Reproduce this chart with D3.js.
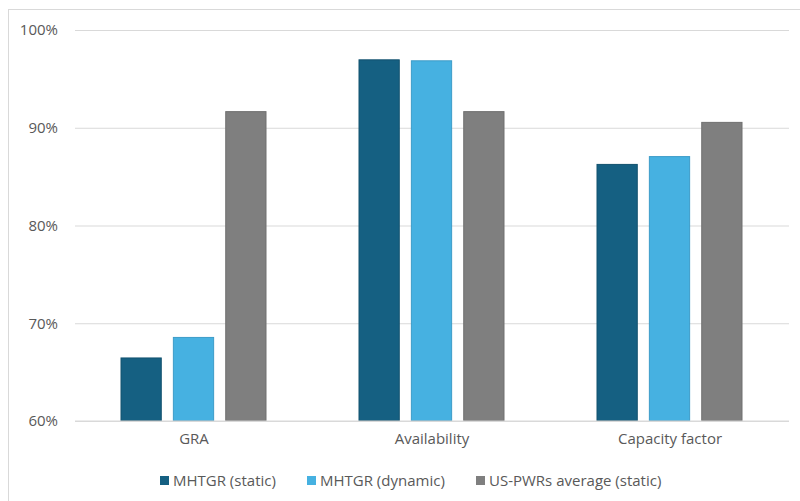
<!DOCTYPE html>
<html>
<head>
<meta charset="utf-8">
<script src="https://cdn.jsdelivr.net/npm/d3@7/dist/d3.min.js"></script>
<style>
  html, body { margin: 0; padding: 0; background: #fff; }
  svg { display: block; }
  text { font-family: "Open Sans", sans-serif; fill: #595959; }
</style>
</head>
<body>
<svg id="chart" width="800" height="501"></svg>
<script>
// Performance indicators (%)
const categories = ["GRA", "Availability", "Capacity factor"];
const seriesNames = ["MHTGR (static)", "MHTGR (dynamic)", "US-PWRs average (static)"];
const mhtgrStatic = [66.5, 97.0, 86.3];
const mhtgrDynamic = [68.6, 96.9, 87.1];
const pwrAverage = [91.7, 91.7, 90.6];
const yTicks = [60, 70, 80, 90, 100];

const colors = ["#156082", "#46B1E1", "#7F7F7F"];
const strokes = ["#12526F", "#3C9CC8", "#707070"];
const values = [mhtgrStatic, mhtgrDynamic, pwrAverage];

const svg = d3.select("#chart");
const W = 800, H = 501;
const plot = { left: 75, right: 789, top: 30, bottom: 421 };

// chart-area frame
svg.append("rect")
  .attr("x", 8.5).attr("y", 9.5)
  .attr("width", W).attr("height", H)
  .attr("fill", "none").attr("stroke", "#D9D9D9").attr("stroke-width", 1);

const x0 = d3.scaleBand().domain(categories).range([plot.left, plot.right]).padding(0);
const x1 = d3.scaleBand().domain(seriesNames)
  .range([45.5, x0.bandwidth() - 46.5])
  .paddingInner(0.212).paddingOuter(0);
const y = d3.scaleLinear().domain([60, 100]).range([plot.bottom, plot.top]);

// gridlines and y labels
const yAxis = d3.axisLeft(y).tickValues(yTicks).tickSize(-(plot.right - plot.left))
  .tickFormat(d => d + "%").tickPadding(17);
const gy = svg.append("g").attr("transform", `translate(${plot.left},0)`).call(yAxis);
gy.select(".domain").remove();
gy.selectAll(".tick line").attr("stroke", "#D9D9D9").attr("stroke-width", 1);
gy.selectAll(".tick text").attr("font-size", 15).style("fill", "#595959")
  .attr("font-family", "Open Sans, sans-serif");

// bars
const groups = svg.append("g").selectAll("g")
  .data(categories)
  .join("g")
  .attr("transform", d => `translate(${x0(d)},0)`);

groups.selectAll("rect")
  .data((c, ci) => seriesNames.map((s, si) => ({ s, si, v: values[si][ci] })))
  .join("rect")
  .attr("x", d => x1(d.s) + 0.5)
  .attr("y", d => y(d.v) + 0.5)
  .attr("width", x1.bandwidth() - 1)
  .attr("height", d => y(60) - y(d.v) - 1)
  .attr("fill", d => colors[d.si])
  .attr("stroke", d => strokes[d.si])
  .attr("stroke-width", 1);

// category axis labels
const xAxis = d3.axisBottom(x0).tickSize(0).tickPadding(12);
const gx = svg.append("g").attr("transform", `translate(0,${plot.bottom})`).call(xAxis);
gx.select(".domain").remove();
gx.selectAll(".tick text").attr("font-size", 15).style("fill", "#595959")
  .attr("font-family", "Open Sans, sans-serif");

// baseline
svg.append("line")
  .attr("x1", plot.left).attr("x2", plot.right)
  .attr("y1", y(60)).attr("y2", y(60))
  .attr("stroke", "#D9D9D9").attr("stroke-width", 1);

// legend
const legendX = [160, 307, 476];
const legend = svg.append("g");
seriesNames.forEach((name, i) => {
  legend.append("rect")
    .attr("x", legendX[i]).attr("y", 476)
    .attr("width", 9).attr("height", 9)
    .attr("fill", colors[i]);
  legend.append("text")
    .attr("x", legendX[i] + 13).attr("y", 486)
    .attr("font-size", 15)
    .text(name);
});
</script>
</body>
</html>
